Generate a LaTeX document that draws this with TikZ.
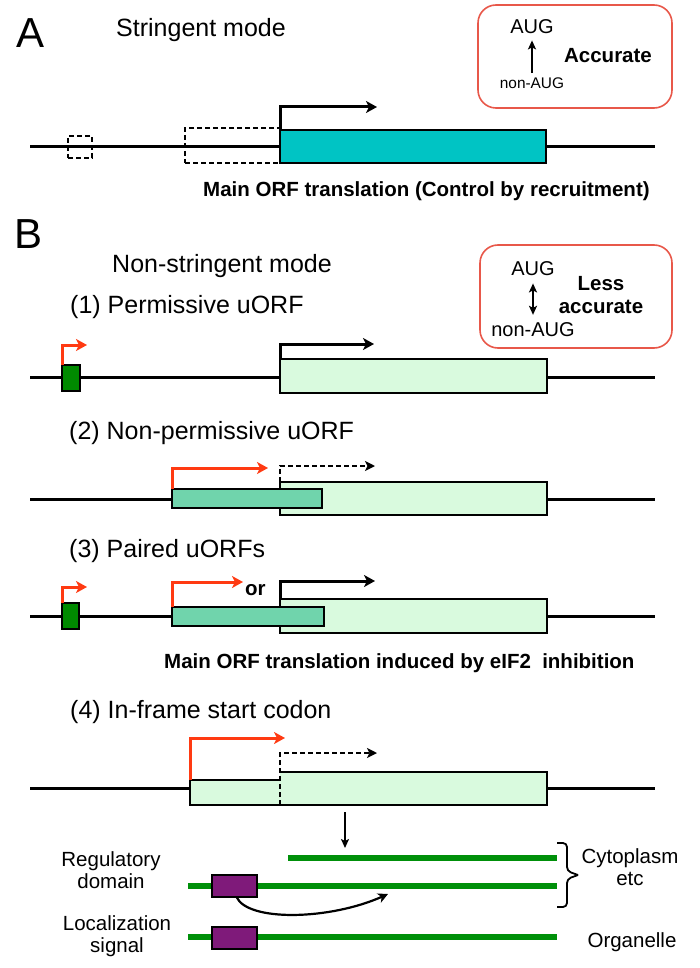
\documentclass[tikz,border=0pt]{standalone}
\usepackage{fontspec}
\setmainfont{Liberation Sans}
\usetikzlibrary{arrows.meta,calc}
\definecolor{tealc}{HTML}{00C4C4}
\definecolor{lightg}{HTML}{D9FADE}
\definecolor{midg}{HTML}{70D4AC}
\definecolor{darkg}{HTML}{008A00}
\definecolor{redc}{HTML}{FF3A12}
\definecolor{protg}{HTML}{00900A}
\definecolor{purp}{HTML}{7F1A7A}
\definecolor{boxred}{HTML}{E8584A}
\begin{document}
\begin{tikzpicture}[x=1pt,y=-1pt,
  dna/.style={line width=3pt, black},
  orfbox/.style={draw=black, line width=2.4pt, inner sep=0pt, outer sep=0pt, anchor=north west},
  dashbox/.style={draw=black, line width=2pt, dash pattern=on 5pt off 3pt, inner sep=0pt, outer sep=0pt, anchor=north west},
  bent/.style={line width=3pt, -{Stealth[length=11pt,width=12pt,inset=3pt]}},
  redarr/.style={bent, draw=redc},
  dasharr/.style={line width=1.8pt, dash pattern=on 5pt off 3pt, -{Stealth[length=10pt,width=10pt,inset=2.5pt]}},
  thinarr/.style={line width=1.8pt, -{Stealth[length=9pt,width=8pt,inset=2pt]}},
  infobox/.style={draw=boxred, line width=1.6pt, rounded corners=18pt},
  prot/.style={line width=6.5pt, protg},
  dom/.style={draw=black, fill=purp, line width=1.8pt, inner sep=0pt, outer sep=0pt, anchor=north west, minimum width=45pt, minimum height=22pt},
  big/.style={font=\fontsize{42}{48}\selectfont, inner sep=0pt, anchor=base west},
  hdr/.style={font=\fontsize{25}{30}\selectfont, inner sep=0pt, anchor=base west},
  bld/.style={font=\fontsize{20.5}{24}\selectfont\bfseries, inner sep=0pt, anchor=base west},
  lbl/.style={font=\fontsize{20.5}{22}\selectfont, inner sep=0pt, align=center, anchor=base},
  sm/.style={font=\fontsize{20}{24}\selectfont, inner sep=0pt, anchor=base},
  smb/.style={font=\fontsize{20.5}{24}\selectfont\bfseries, inner sep=0pt, anchor=base, align=center},
]
\useasboundingbox (0,0) rectangle (700,968);

% ---------------- A ----------------
\node[big] (labA) at (16,48) {A};
\node[hdr] (hA) at (116,37) {Stringent mode};
\draw[infobox] (478,5) rectangle (672,108);
\node[sm] (augA) at (532,34) {AUG};
\node[font=\fontsize{15.4}{18}\selectfont, inner sep=0pt, anchor=base] (nonA) at (532,89) {non-AUG};
\draw[thinarr, shorten <=5pt, shorten >=6pt] (nonA.north) -- (augA.south);
\node[smb] (accA) at (608,63) {Accurate};

\coordinate (LA1) at (30,147);
\coordinate (LA2) at (655,147);
\draw[dna] (LA1) -- (LA2);
\node[dashbox, minimum width=24pt, minimum height=22pt] (dsA) at (68,136) {};
\node[dashbox, minimum width=95pt, minimum height=35pt] (dlA) at (185,128) {};
\node[orfbox, fill=tealc, minimum width=266pt, minimum height=33pt] (mA) at (280,130) {};
\coordinate (tA) at (377,107);
\draw[bent] (mA.north west) |- (tA);
\node[bld] (capA) at (203,197) {Main ORF translation (Control by recruitment)};

% ---------------- B ----------------
\node[big] (labB) at (14,248) {B};
\node[hdr] (hB) at (112,272) {Non-stringent mode};
\draw[infobox] (480,245) rectangle (672,348);
\node[sm] (augB) at (533,275) {AUG};
\node[sm] (nonB) at (533,336) {non-AUG};
\draw[line width=1.8pt, {Stealth[length=9pt,width=8pt,inset=2pt]}-{Stealth[length=9pt,width=8pt,inset=2pt]}, shorten <=7pt, shorten >=8pt] (nonB.north) -- (augB.south);
\node[smb] (accB) at (601,313) {Less\\[-1pt]accurate};

% (1)
\node[hdr] (h1) at (70,313) {(1) Permissive uORF};
\coordinate (L11) at (30,377);
\coordinate (L12) at (655,377);
\draw[dna] (L11) -- (L12);
\node[orfbox, fill=darkg, line width=2pt, minimum width=18pt, minimum height=26pt] (u1) at (62,365) {};
\node[orfbox, fill=lightg, minimum width=267pt, minimum height=34pt] (m1) at (280,359) {};
\coordinate (t1r) at (87,345);
\draw[redarr] (u1.north west) |- (t1r);
\coordinate (t1) at (374,344);
\draw[bent] (m1.north west) |- (t1);

% (2)
\node[hdr] (h2) at (69,439) {(2) Non-permissive uORF};
\coordinate (L21) at (30,499);
\coordinate (L22) at (655,499);
\draw[dna] (L21) -- (L22);
\node[orfbox, fill=lightg, minimum width=267pt, minimum height=33pt] (m2) at (280,482) {};
\node[orfbox, fill=midg, minimum width=150pt, minimum height=19pt] (u2) at (172,489) {};
\coordinate (t2r) at (268,468);
\draw[redarr] (u2.north west) |- (t2r);
\coordinate (t2) at (375,466);
\draw[dasharr] (m2.north west) |- (t2);

% (3)
\node[hdr] (h3) at (69,557) {(3) Paired uORFs};
\coordinate (L31) at (30,616);
\coordinate (L32) at (655,616);
\draw[dna] (L31) -- (L32);
\node[orfbox, fill=darkg, line width=2pt, minimum width=17pt, minimum height=26pt] (u3a) at (62,603) {};
\node[orfbox, fill=lightg, minimum width=267pt, minimum height=34pt] (m3) at (280,599) {};
\node[orfbox, fill=midg, minimum width=152pt, minimum height=19pt] (u3b) at (172,607) {};
\coordinate (t3a) at (87,587);
\draw[redarr] (u3a.north west) |- (t3a);
\coordinate (t3b) at (243,582);
\draw[redarr] (u3b.north west) |- (t3b);
\coordinate (t3) at (375,581);
\draw[bent] (m3.north west) |- (t3);
\node[bld] (or3) at (245,595) {or};
\node[bld] (capB) at (164,668) {Main ORF translation induced by eIF2\hspace{0.55em}inhibition};

% (4)
\node[hdr] (h4) at (70,718) {(4) In-frame start codon};
\coordinate (L41) at (30,788);
\coordinate (L42) at (655,788);
\draw[dna] (L41) -- (L42);
\node[fill=lightg, inner sep=0pt, outer sep=0pt, anchor=north west, minimum width=90pt, minimum height=25pt] (e4) at (190,780) {};
\node[fill=lightg, inner sep=0pt, outer sep=0pt, anchor=north west, minimum width=267pt, minimum height=33pt] (m4) at (280,772) {};
\draw[line width=2.4pt] (e4.north east) -- (e4.north west) -- (e4.south west) -- (m4.south east) -- (m4.north east) -- (m4.north west);
\coordinate (t4r) at (285,738);
\draw[redarr] (e4.north west) |- (t4r);
\coordinate (t4) at (377,753);
\draw[dasharr] (m4.south west) |- (t4);

\coordinate (da1) at (345,812);
\coordinate (da2) at (345,848);
\draw[thinarr, line width=2.2pt] (da1) -- (da2);

% proteins
\coordinate (p1a) at (288,858);
\coordinate (p1b) at (557,858);
\coordinate (p2a) at (188,886);
\coordinate (p2b) at (557,886);
\coordinate (p3a) at (188,937);
\coordinate (p3b) at (557,937);
\draw[prot] (p1a) -- (p1b);
\draw[prot] (p2a) -- (p2b);
\draw[prot] (p3a) -- (p3b);
\node[dom] (d2) at (212,875) {};
\node[dom] (d3) at (212,927) {};
\coordinate (ce) at (388,894);
\draw[line width=2.2pt, -{Stealth[length=10pt,width=10pt,inset=3pt]}] ([xshift=2pt]d2.south) .. controls (248,922) and (330,920) .. (ce);

% bracket
\coordinate (br1) at (557,843);
\coordinate (br2) at (557,907);
\coordinate (brt) at (578,875);
\draw[line width=1.8pt, rounded corners=4pt] (br1) -- (567,843) -- (567,871) -- (brt);
\draw[line width=1.8pt, rounded corners=4pt] (br2) -- (567,907) -- (567,879) -- (brt);

\node[lbl] (reg) at (111,888) {Regulatory\\domain};
\node[lbl] (loc) at (117,952) {Localization\\signal};
\node[lbl] (cyt) at (630,885) {Cytoplasm\\etc};
\node[lbl] (org) at (632,947) {Organelle};
\end{tikzpicture}
\end{document}
